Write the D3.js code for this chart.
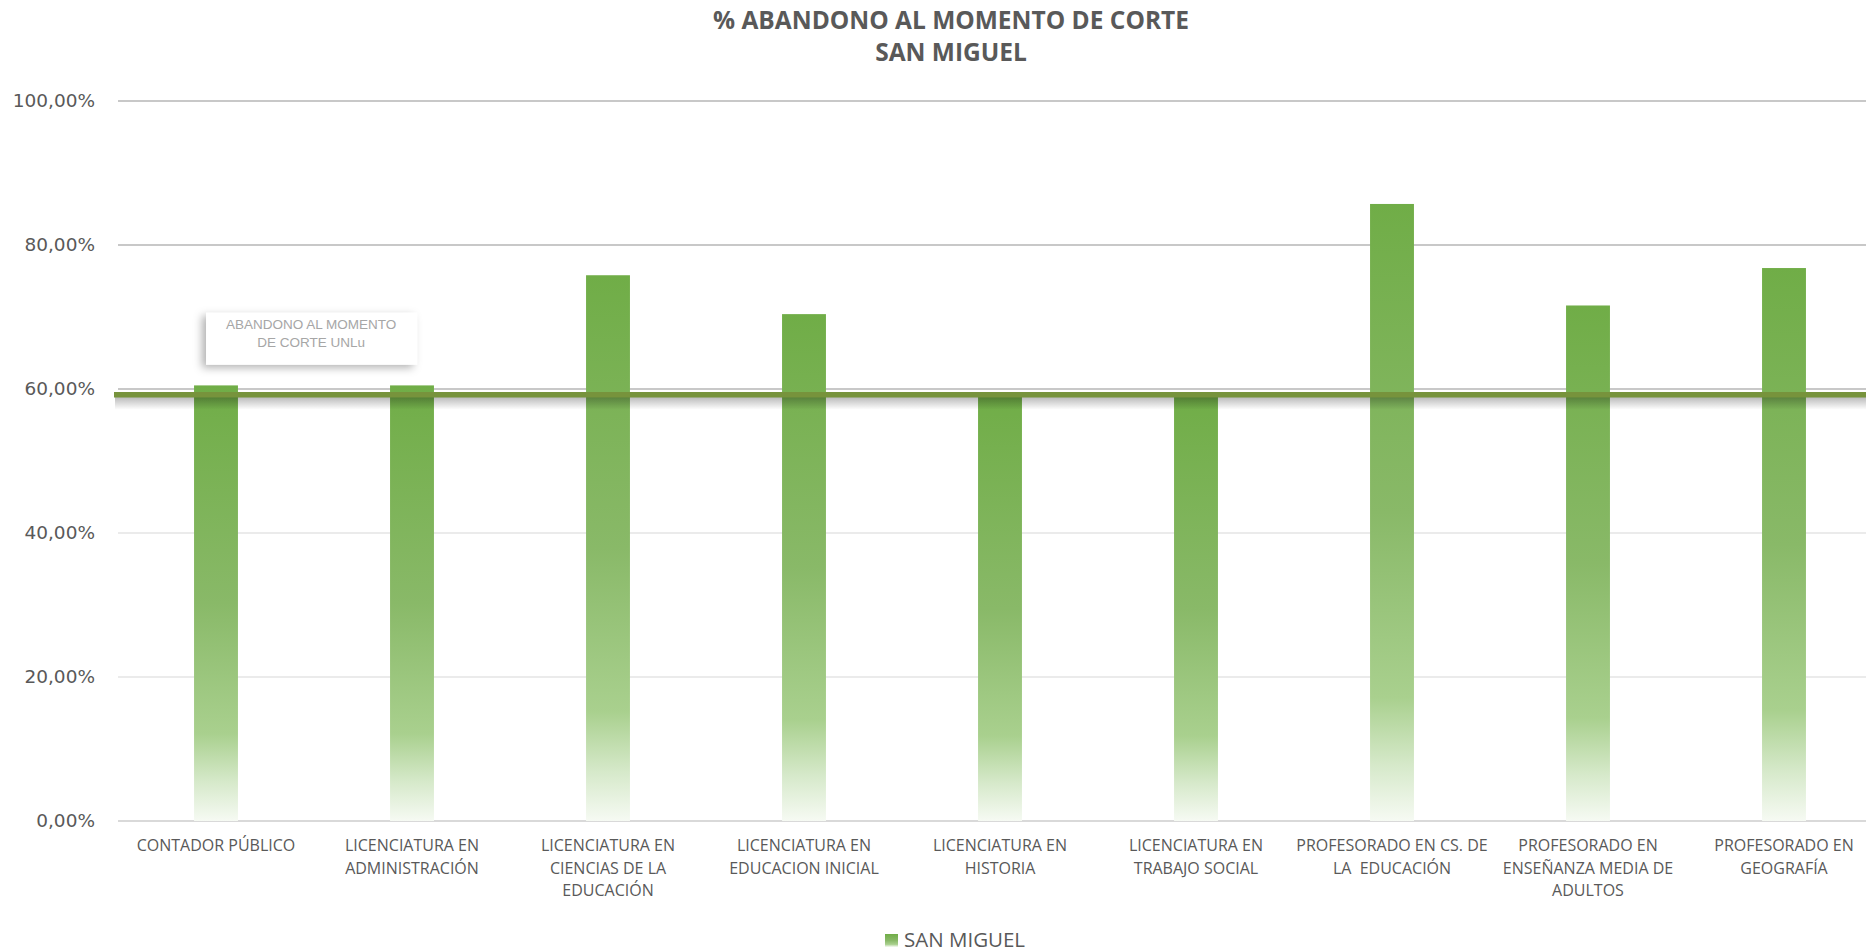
<!DOCTYPE html>
<html>
<head>
<meta charset="utf-8">
<script src="https://cdn.jsdelivr.net/npm/d3@7"></script>
<style>
  html, body { margin: 0; padding: 0; background: #fff; overflow: hidden; }
</style>
</head>
<body>
<svg id="chart"></svg>
<script>
// data
const categories = [
  ['CONTADOR PÚBLICO'],
  ['LICENCIATURA EN', 'ADMINISTRACIÓN'],
  ['LICENCIATURA EN', 'CIENCIAS DE LA', 'EDUCACIÓN'],
  ['LICENCIATURA EN', 'EDUCACION INICIAL'],
  ['LICENCIATURA EN', 'HISTORIA'],
  ['LICENCIATURA EN', 'TRABAJO SOCIAL'],
  ['PROFESORADO EN CS. DE', 'LA  EDUCACIÓN'],
  ['PROFESORADO EN', 'ENSEÑANZA MEDIA DE', 'ADULTOS'],
  ['PROFESORADO EN', 'GEOGRAFÍA']
]
const sanMiguel = [60.5, 60.5, 75.8, 70.4, 59.0, 59.1, 85.7, 71.6, 76.8]
const unluAverage = 59.2
const yTicks = [0, 20, 40, 60, 80, 100]
const titleLines = ['% ABANDONO AL MOMENTO DE CORTE', 'SAN MIGUEL']
const seriesName = 'SAN MIGUEL'
const avgLabel = ['ABANDONO AL MOMENTO', 'DE CORTE UNLu']

const W = 1866
const H = 952
const margin = { top: 101, left: 118, bottom: 131 }
const plotW = 1764
const plotH = H - margin.top - margin.bottom

const svg = d3.select('#chart').attr('width', W).attr('height', H)

const defs = svg.append('defs')
const grad = defs
  .append('linearGradient')
  .attr('id', 'barGrad')
  .attr('x1', 0).attr('y1', 0).attr('x2', 0).attr('y2', 1)
;[
  [0, '#70ad47'],
  [0.5, '#89b968'],
  [0.8, '#a9d08e'],
  [0.91, '#d6e9ca'],
  [1, '#f6faf3']
].forEach(s => grad.append('stop').attr('offset', s[0]).attr('stop-color', s[1]))

const shadowGrad = defs
  .append('linearGradient')
  .attr('id', 'lineShadow')
  .attr('x1', 0).attr('y1', 0).attr('x2', 0).attr('y2', 1)
shadowGrad.append('stop').attr('offset', 0).attr('stop-color', '#000').attr('stop-opacity', 0.28)
shadowGrad.append('stop').attr('offset', 1).attr('stop-color', '#000').attr('stop-opacity', 0)

const boxShadow = defs.append('filter').attr('id', 'boxShadow')
  .attr('x', '-20%').attr('y', '-30%').attr('width', '140%').attr('height', '170%')
boxShadow.append('feDropShadow')
  .attr('dx', -4).attr('dy', 3).attr('stdDeviation', 4)
  .attr('flood-color', '#000').attr('flood-opacity', 0.3)

const g = svg.append('g').attr('transform', `translate(${margin.left},${margin.top})`)

const x = d3.scaleBand()
  .domain(d3.range(categories.length))
  .range([0, plotW])
  .paddingInner(0.776)
  .paddingOuter(0.388)

const y = d3.scaleLinear().domain([0, 100]).range([plotH, 0])

// gridlines
const gridColor = v => (v === 0 ? '#d9d9d9' : v >= 60 ? '#c8c8c8' : '#ebebeb')
g.append('g')
  .selectAll('line')
  .data(yTicks)
  .join('line')
  .attr('x1', 0)
  .attr('x2', plotW)
  .attr('y1', d => y(d))
  .attr('y2', d => y(d))
  .attr('stroke', d => gridColor(d))
  .attr('stroke-width', 2)

// y axis labels
const yAxis = d3.axisLeft(y)
  .tickValues(yTicks)
  .tickSize(0)
  .tickPadding(23)
  .tickFormat(d => d3.format('.2f')(d).replace('.', ',') + '%')
g.append('g')
  .call(yAxis)
  .call(a => a.select('.domain').remove())
  .call(a => a.selectAll('text')
    .attr('font-family', 'DejaVu Sans, Verdana, sans-serif')
    .attr('font-size', 18.5)
    .attr('fill', '#595959'))

// bars
g.append('g')
  .selectAll('rect')
  .data(sanMiguel)
  .join('rect')
  .attr('x', (d, i) => x(i))
  .attr('y', d => y(d))
  .attr('width', x.bandwidth())
  .attr('height', d => plotH - y(d))
  .attr('fill', 'url(#barGrad)')

// average line with its shadow
const avgY = y(unluAverage)
g.append('rect')
  .attr('x', -3)
  .attr('y', avgY + 2)
  .attr('width', plotW + 3)
  .attr('height', 13)
  .attr('fill', 'url(#lineShadow)')
g.append('line')
  .attr('x1', -4)
  .attr('x2', plotW)
  .attr('y1', avgY)
  .attr('y2', avgY)
  .attr('stroke', '#77933c')
  .attr('stroke-width', 5.5)

// callout label
const box = g.append('g').attr('transform', `translate(${x(0) + 12},${avgY - 82})`)
box.append('rect')
  .attr('width', 211)
  .attr('height', 52)
  .attr('fill', '#fff')
  .attr('filter', 'url(#boxShadow)')
box.append('text')
  .attr('x', 105)
  .attr('y', 16)
  .attr('text-anchor', 'middle')
  .attr('font-family', 'Liberation Sans, Arial, sans-serif')
  .attr('font-size', 13.5)
  .attr('fill', '#a6a6a6')
  .selectAll('tspan')
  .data(avgLabel)
  .join('tspan')
  .attr('x', 105)
  .attr('dy', (d, i) => (i === 0 ? 0 : 18))
  .text(d => d)

// x labels
const xl = g.append('g')
  .selectAll('text')
  .data(categories)
  .join('text')
  .attr('transform', (d, i) => `translate(${x(i) + x.bandwidth() / 2},${plotH + 30})`)
  .attr('text-anchor', 'middle')
  .attr('font-family', 'Open Sans, sans-serif')
  .attr('font-size', 16)
  .attr('fill', '#595959')
  .style('white-space', 'pre')
xl.selectAll('tspan')
  .data(d => d)
  .join('tspan')
  .attr('x', 0)
  .attr('y', (d, i) => i * 22.6)
  .text(d => d)

// title
svg.append('text')
  .attr('text-anchor', 'middle')
  .attr('font-family', 'Open Sans, sans-serif')
  .attr('font-weight', 'bold')
  .attr('font-size', 24.5)
  .attr('fill', '#595959')
  .selectAll('tspan')
  .data(titleLines)
  .join('tspan')
  .attr('x', 951)
  .attr('y', (d, i) => 29 + i * 32)
  .text(d => d)

// legend
const legend = svg.append('g').attr('transform', 'translate(885,934)')
legend.append('rect')
  .attr('width', 13)
  .attr('height', 13)
  .attr('fill', 'url(#barGrad)')
legend.append('text')
  .attr('x', 19)
  .attr('y', 13)
  .attr('font-family', 'Open Sans, sans-serif')
  .attr('font-size', 20.5)
  .attr('fill', '#595959')
  .text(seriesName)
</script>
</body>
</html>
